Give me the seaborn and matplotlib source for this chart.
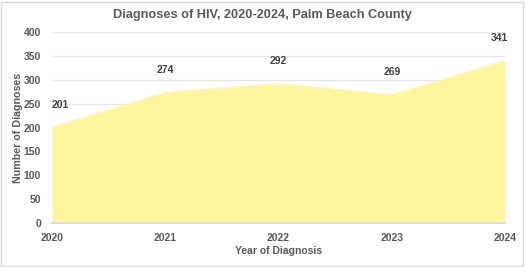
import matplotlib
matplotlib.use("Agg")
import matplotlib.pyplot as plt
import seaborn as sns
import pandas as pd
from matplotlib.patches import Rectangle

years = [2020, 2021, 2022, 2023, 2024]
diagnoses = [201, 274, 292, 269, 341]
yticks = [0, 50, 100, 150, 200, 250, 300, 350, 400]

df = pd.DataFrame({"Year": years, "Diagnoses": diagnoses})

sns.set_theme(style="white")
plt.rcParams["font.family"] = ["Liberation Sans", "DejaVu Sans"]

fill_color = "#FFF59D"
text_color = "#595959"

fig = plt.figure(figsize=(5.25, 2.67), dpi=100)
ax = fig.add_axes([52/525, 1-223/267, (505-52)/525, (223-32)/267])

sns.lineplot(data=df, x="Year", y="Diagnoses", ax=ax, color=fill_color, linewidth=0.5)
ax.fill_between(df["Year"], df["Diagnoses"], 0, color=fill_color, linewidth=0, zorder=2)

n = len(years)
for i, (x, y) in enumerate(zip(years, diagnoses)):
    if i == 0:
        ha, dx = "left", 0
    elif i == n - 1:
        ha, dx = "center", -4
    else:
        ha, dx = "center", 0
    ax.annotate(str(y), (x, y), xytext=(dx, 16), textcoords="offset points",
                ha=ha, va="center", fontsize=7.5, fontweight="bold", color="#404040")

ax.set_xlim(2020, 2024)
ax.set_ylim(0, 400)
ax.set_xticks(years)
ax.set_xticklabels([str(y) for y in years])
ax.set_yticks(yticks)
ax.grid(axis="y", color="#E6E6E6", linewidth=1, zorder=0)
ax.set_axisbelow(True)
for s in ["top", "right", "left"]:
    ax.spines[s].set_visible(False)
ax.spines["bottom"].set_color("#D9D9D9")
ax.spines["bottom"].set_zorder(3)
ax.tick_params(axis="x", length=3, color="#D9D9D9", pad=4, labelsize=7.5, labelcolor=text_color)
ax.tick_params(axis="y", length=0, pad=8, labelsize=7.5, labelcolor=text_color)
for lbl in ax.get_xticklabels() + ax.get_yticklabels():
    lbl.set_fontweight("bold")

ax.set_xlabel("Year of Diagnosis", fontsize=7.5, fontweight="bold", color=text_color, labelpad=2)
ax.set_ylabel("Number of Diagnoses", fontsize=7.7, fontweight="bold", color=text_color, labelpad=0.5)

fig.text(0.5, 1-15/267, "Diagnoses of HIV, 2020-2024, Palm Beach County", ha="center", va="center",
         fontsize=9.2, fontweight="bold", color=text_color)

fig.patches.append(Rectangle((0.002, 0.004), 0.995, 0.99, transform=fig.transFigure,
                             fill=False, edgecolor="#D9D9D9", linewidth=1))

fig.savefig("out.png", dpi=100)
